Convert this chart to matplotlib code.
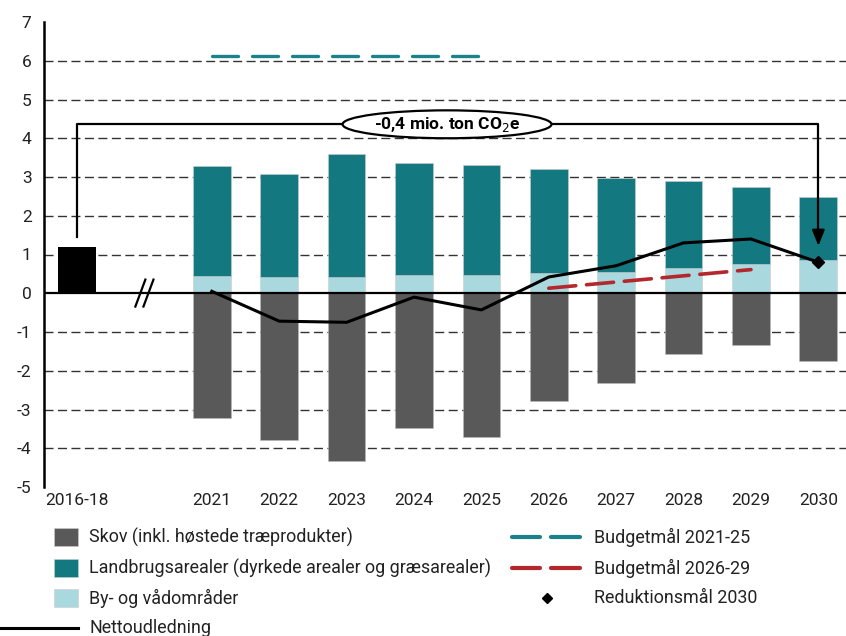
import matplotlib
matplotlib.use("Agg")
import matplotlib.pyplot as plt
from matplotlib.patches import Ellipse, Rectangle
from matplotlib.lines import Line2D

plt.rcParams['font.family'] = ['Roboto', 'DejaVu Sans']

# ---- data ----
categories = ["2016-18", "2021", "2022", "2023", "2024", "2025", "2026", "2027", "2028", "2029", "2030"]
years = categories[1:]
base_value = 1.2  # 2016-18 net emission
by_vaad = [0.44, 0.43, 0.43, 0.46, 0.46, 0.51, 0.56, 0.65, 0.75, 0.87]
landbrug_top = [3.28, 3.07, 3.60, 3.37, 3.30, 3.20, 2.98, 2.89, 2.74, 2.48]
landbrug = [t - b for t, b in zip(landbrug_top, by_vaad)]
skov = [-3.21, -3.78, -4.32, -3.47, -3.72, -2.77, -2.31, -1.58, -1.33, -1.76]
netto = [0.05, -0.72, -0.75, -0.10, -0.43, 0.42, 0.71, 1.30, 1.40, 0.80]
budget_2125_years = ["2021", "2022", "2023", "2024", "2025"]
budget_2125 = [6.12, 6.12, 6.12, 6.12, 6.12]
budget_2629_years = ["2026", "2027", "2028", "2029"]
budget_2629 = [0.13, 0.29, 0.45, 0.61]
maal_2030 = 0.80
reduction_label = "-0,4 mio. ton CO$_2$e"
yticks = list(range(-5, 8))

# ---- colors ----
C_SKOV = "#595959"
C_LAND = "#137880"
C_BY = "#A9D8DE"
C_RED = "#B3272D"
C_TEAL = "#1B8289"

W, H = 846, 636
fig = plt.figure(figsize=(W / 100, H / 100), dpi=100)
ax = fig.add_axes([44 / W, 1 - 487 / H, (846 - 44) / W, (487 - 22) / H])

pos = {c: (0 if i == 0 else i + 1) for i, c in enumerate(categories)}
xs = [pos[y] for y in years]
bw = 0.56

ax.bar(pos["2016-18"], base_value, width=bw, color="black", zorder=3)
ax.bar(xs, skov, width=bw, color=C_SKOV, edgecolor="#bbbbbb", linewidth=0.4, zorder=3)
ax.bar(xs, by_vaad, width=bw, color=C_BY, edgecolor="#cccccc", linewidth=0.4, zorder=3)
ax.bar(xs, landbrug, bottom=by_vaad, width=bw, color=C_LAND, edgecolor="#cccccc", linewidth=0.4, zorder=3)

ax.plot([pos[y] for y in budget_2125_years], budget_2125, color=C_TEAL, lw=2.4,
        dashes=(7.8, 4.2), dash_capstyle="round", zorder=4)
ax.plot([pos[y] for y in budget_2629_years], budget_2629, color=C_RED, lw=2.6,
        dashes=(7.5, 3.0), dash_capstyle="round", zorder=4)
ax.plot(xs, netto, color="black", lw=2.2, zorder=5)
ax.plot(pos["2030"], maal_2030, marker="D", color="black", ms=6, zorder=6)

# grid
for yv in yticks:
    if yv in (0, 7, -5):
        continue
    ax.axhline(yv, color="#333333", lw=1.0, dashes=(6.5, 3.2), zorder=1)
ax.axhline(0, color="black", lw=1.6, zorder=4)

# break mark
bx = pos["2016-18"] + 1
for dx in (-0.06, 0.06):
    ax.plot([bx + dx - 0.08, bx + dx + 0.08], [-0.37, 0.38], color="black", lw=1.6, zorder=6,
            solid_capstyle="butt")

# reduction bracket
y_br = 4.36
x0, x1 = pos["2016-18"], pos["2030"]
ax.plot([x0, x0, x1, x1], [1.44, y_br, y_br, 1.55], color="black", lw=1.6, zorder=6)
ax.annotate("", xy=(x1, 1.15), xytext=(x1, 1.6),
            arrowprops=dict(arrowstyle="-|>,head_width=0.38,head_length=0.95", color="black", lw=1.6),
            zorder=7)
xm = 5.49
ax.add_patch(Ellipse((xm, y_br), 3.1, 0.72, facecolor="white", edgecolor="black", lw=1.6, zorder=7))
ax.text(xm, y_br, reduction_label, ha="center", va="center", fontsize=12.5, fontweight="bold", zorder=8)

ax.set_xlim(-0.49, 11.41)
ax.set_ylim(-5, 7)
ax.set_yticks(yticks)
ax.set_yticklabels([str(v) for v in yticks])
ax.set_xticks([pos[c] for c in categories])
ax.set_xticklabels(categories)
ax.tick_params(axis="both", length=0, labelsize=12.5, colors="#222222")
ax.tick_params(axis="y", pad=9)
ax.tick_params(axis="x", pad=4)
for s in ("top", "right", "bottom"):
    ax.spines[s].set_visible(False)
ax.spines["left"].set_linewidth(1.8)
ax.spines["left"].set_color("black")

# ---- legend (manual) ----
def fx(px):
    return px / W

def fy(py):
    return 1 - py / H

LFS = 12.9
rows = [537, 568, 598, 628]
left_items = [(C_SKOV, "Skov (inkl. høstede træprodukter)"),
              (C_LAND, "Landbrugsarealer (dyrkede arealer og græsarealer)"),
              (C_BY, "By- og vådområder")]
for (c, lab), ry in zip(left_items, rows):
    fig.add_artist(Rectangle((fx(54), fy(ry + 9)), fx(24), 18 / H, transform=fig.transFigure,
                             facecolor=c, edgecolor="#cccccc", lw=0.4))
    fig.text(fx(89), fy(ry), lab, ha="left", va="center", fontsize=LFS, color="#222222")

fig.add_artist(Line2D([fx(0), fx(78)], [fy(rows[3]), fy(rows[3])], transform=fig.transFigure,
                      color="black", lw=2.2))
fig.text(fx(89), fy(rows[3]), "Nettoudledning", ha="left", va="center", fontsize=LFS, color="#222222")

for c, lab, ry in [(C_TEAL, "Budgetmål 2021-25", rows[0]), (C_RED, "Budgetmål 2026-29", rows[1])]:
    for a, b in ((512, 540), (551, 580)):
        fig.add_artist(Line2D([fx(a), fx(b)], [fy(ry), fy(ry)], transform=fig.transFigure,
                              color=c, lw=3, solid_capstyle="round"))
    fig.text(fx(594), fy(ry), lab, ha="left", va="center", fontsize=LFS, color="#222222")
fig.add_artist(Line2D([fx(547)], [fy(rows[2])], transform=fig.transFigure, marker="D",
                      color="black", ms=5.5, lw=0))
fig.text(fx(594), fy(rows[2]), "Reduktionsmål 2030", ha="left", va="center", fontsize=LFS, color="#222222")

fig.savefig("out.png", dpi=100)
